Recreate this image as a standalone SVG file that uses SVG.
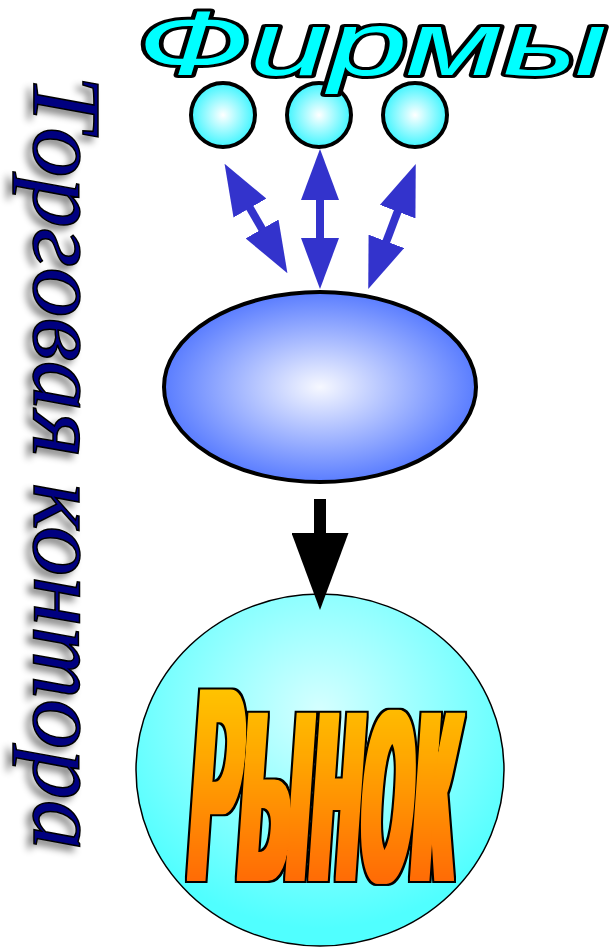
<svg xmlns="http://www.w3.org/2000/svg" width="610" height="948" viewBox="0 0 610 948">
<defs>
<style>
.firm{stroke:#000;stroke-width:4;fill:url(#gFirm)}
.blue{stroke:#3333CC;stroke-width:8;fill:none}
.title{font-family:"Liberation Sans",Arial,sans-serif;font-style:italic;font-size:90px;fill:#00FFFF;stroke:#000;stroke-width:6;paint-order:stroke;stroke-linejoin:round}
.side{font-family:"Liberation Serif","Times New Roman",serif;font-style:italic;font-size:98px;fill:#000080;stroke:#000;stroke-width:1.5}
.market{font-family:"Liberation Sans",Arial,sans-serif;font-weight:bold;fill:url(#gMarket)}
</style>
<radialGradient id="gFirm" cx="0.5" cy="0.5" r="0.5">
<stop offset="0" stop-color="#FFFFFF"/>
<stop offset="1" stop-color="#3FF5FF"/>
</radialGradient>
<radialGradient id="gHub" cx="0.5" cy="0.5" r="0.5">
<stop offset="0" stop-color="#F6F8FF"/>
<stop offset="1" stop-color="#5A7DFF"/>
</radialGradient>
<radialGradient id="gMarketBg" cx="0.5" cy="0.33" r="0.62">
<stop offset="0" stop-color="#D5FFFF"/>
<stop offset="1" stop-color="#50FFFF"/>
</radialGradient>
<linearGradient id="gMarket" x1="0" y1="0" x2="0" y2="1">
<stop offset="0" stop-color="#FFE800"/>
<stop offset="0.45" stop-color="#FFA800"/>
<stop offset="1" stop-color="#FF4A08"/>
</linearGradient>
<marker id="hBlue" markerUnits="userSpaceOnUse" markerWidth="51" markerHeight="38" viewBox="0 0 51 38" refX="1" refY="19" orient="auto-start-reverse">
<path d="M0,0 L51,19 L0,38 z" fill="#3333CC"/>
</marker>
<marker id="hBlack" markerUnits="userSpaceOnUse" markerWidth="77" markerHeight="57" viewBox="0 0 77 57" refX="1" refY="28.5" orient="auto">
<path d="M0,0 L77,28.5 L0,57 z" fill="#000"/>
</marker>
<filter id="shadow" x="-30%" y="-5%" width="160%" height="110%">
<feDropShadow dx="-6" dy="5" stdDeviation="3.5" flood-color="#000" flood-opacity="0.45"/>
</filter>
<filter id="heavy" x="-5%" y="-5%" width="110%" height="110%" color-interpolation-filters="sRGB">
<feMorphology in="SourceGraphic" operator="dilate" radius="3.5 0.5" result="thick"/>
<feMorphology in="thick" operator="dilate" radius="2" result="outer"/>
<feFlood flood-color="#000000" result="ink"/>
<feComposite in="ink" in2="outer" operator="in" result="border"/>
<feMerge><feMergeNode in="border"/><feMergeNode in="thick"/></feMerge>
</filter>
</defs>
<rect width="610" height="948" fill="#FFFFFF"/>

<g id="side-label" filter="url(#shadow)">
<text class="side" transform="translate(34,75) rotate(90)" x="0" y="0" textLength="775" lengthAdjust="spacingAndGlyphs">Торговая контора</text>
</g>

<g id="market">
<ellipse cx="320" cy="770" rx="184" ry="176" fill="url(#gMarketBg)" stroke="#000" stroke-width="1.5"/>
<g filter="url(#heavy)">
<text class="market" transform="translate(186,880) skewX(-4) scale(1,2.6)" x="0" y="0" textLength="264" lengthAdjust="spacingAndGlyphs"><tspan font-size="106">Р</tspan><tspan font-size="121">ынок</tspan></text>
</g>
</g>

<g id="hub">
<ellipse cx="320" cy="387" rx="156" ry="95" fill="url(#gHub)" stroke="#000" stroke-width="4"/>
</g>

<g id="firm1"><circle class="firm" cx="223" cy="115" r="32"/></g>
<g id="firm2"><circle class="firm" cx="319" cy="115" r="32"/></g>
<g id="firm3"><circle class="firm" cx="415" cy="115" r="32"/></g>

<g id="connectors">
<line class="blue" x1="249.5" y1="207.2" x2="262.5" y2="229.8" marker-start="url(#hBlue)" marker-end="url(#hBlue)"/>
<line class="blue" x1="320" y1="199" x2="320" y2="239" marker-start="url(#hBlue)" marker-end="url(#hBlue)"/>
<line class="blue" x1="398" y1="210.7" x2="386" y2="242.3" marker-start="url(#hBlue)" marker-end="url(#hBlue)"/>
<line x1="320" y1="499" x2="320" y2="534" stroke="#000" stroke-width="12" marker-end="url(#hBlack)"/>
</g>

<g id="title">
<text class="title" x="137" y="75" textLength="470" lengthAdjust="spacingAndGlyphs">Фирмы</text>
</g>
</svg>
